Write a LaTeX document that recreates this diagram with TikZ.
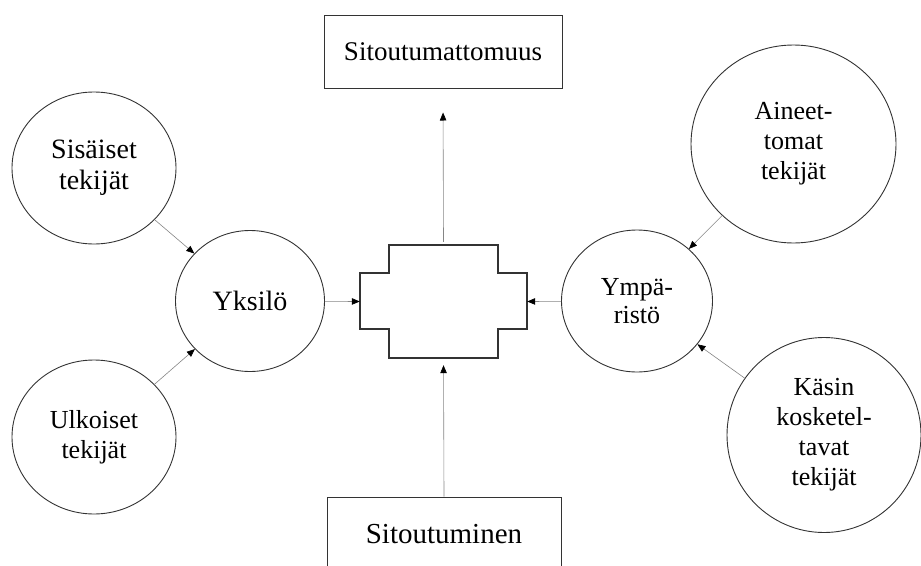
\documentclass[tikz,border=0pt]{standalone}
\usepackage{fontspec}
\setmainfont{Liberation Serif}
\usetikzlibrary{
arrows.meta,
shapes.geometric,
calc
}
\definecolor{SITLine}{HTML}{333333}
\definecolor{SITArrow}{HTML}{858585}
\tikzset{
sitfactor/.style={draw=SITLine, line width=0.9pt, ellipse, inner sep=0pt, align=center,
  font=\fontsize{26}{30}\selectfont},
sitbox/.style={draw=SITLine, line width=1pt, rectangle, inner sep=0pt, align=center},
sitcore/.style={inner sep=0pt, minimum width=167pt, minimum height=113pt},
sitarrow/.style={-{Triangle[length=8pt, width=6.5pt, color=black]}, line width=0.6pt, draw=SITArrow},
sitwall/.style={draw=SITLine, line width=1.6pt, line join=miter}
}
\begin{document}
\begin{tikzpicture}[x=1pt, y=-1pt]
\useasboundingbox (0,0) rectangle (921,565);
% boxes above and below
\node[sitbox, minimum width=238pt, minimum height=73pt, font=\fontsize{27}{32}\selectfont] (free) at (443,51.5) {Sitoutumattomuus};
\node[sitbox, minimum width=234pt, minimum height=74pt, font=\fontsize{29}{34}\selectfont] (bound) at (444,534) {Sitoutuminen};
% the stepped shape in the middle
\node[sitcore] (core) at (443.5,301.5) {};
\draw[sitwall] ($(core.north west)+(29,0)$) -- ++(109,0) -- ++(0,28) -- ++(29,0) -- ++(0,56)
  -- ++(-29,0) -- ++(0,29) -- ++(-109,0) -- ++(0,-29) -- ++(-29,0) -- ++(0,-56) -- ++(29,0) -- cycle;
% left side
\node[sitfactor, minimum width=164pt, minimum height=152pt, font=\fontsize{28}{31}\selectfont] (sis) at (94,168) {Sisäiset\\tekijät};
\node[sitfactor, minimum width=164pt, minimum height=154pt] (ulk) at (94,437) {Ulkoiset\\tekijät};
\node[sitfactor, minimum width=149pt, minimum height=141pt, font=\fontsize{28}{31}\selectfont] (yks) at (250,301) {Yksilö};
% right side
\node[sitfactor, minimum width=151pt, minimum height=142pt, font=\fontsize{26}{28}\selectfont] (ymp) at (637,301) {Ympä-\\ristö};
\node[sitfactor, minimum width=205pt, minimum height=198pt] (aine) at (793.5,144) {Aineet-\\tomat\\tekijät};
\node[sitfactor, minimum width=194pt, minimum height=195pt] (kasin) at (824,435) {Käsin\\kosketel-\\tavat\\tekijät};

\draw[sitarrow] (sis) -- (yks);
\draw[sitarrow] (ulk) -- (yks);
\draw[sitarrow] (yks) -- (core.west);
\draw[sitarrow] (aine) -- (ymp);
\draw[sitarrow] (kasin) -- (ymp);
\draw[sitarrow] (ymp) -- (core.east);
\draw[sitarrow, shorten <=3pt, shorten >=24pt] (core.north) -- (free.south);
\draw[sitarrow, shorten >=7pt] (bound.north) -- (core.south);
\end{tikzpicture}
\end{document}
